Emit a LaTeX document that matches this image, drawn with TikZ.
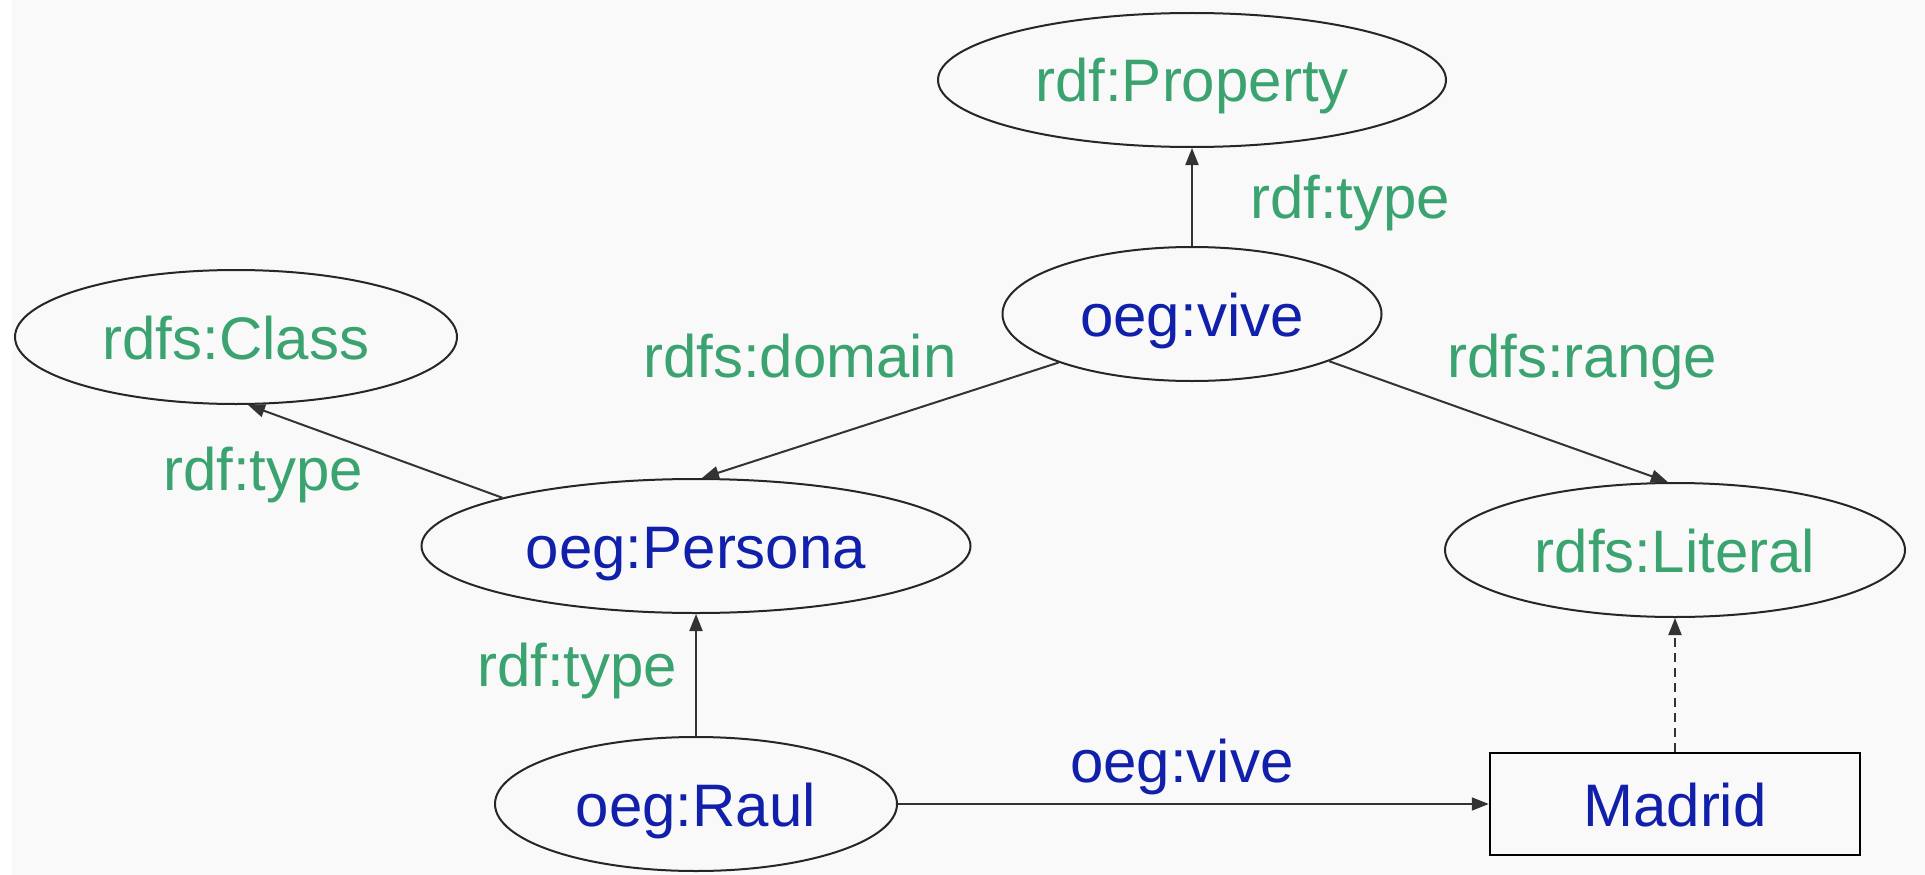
\documentclass[tikz,border=0pt]{standalone}
\usepackage{fontspec}
\setmainfont{Liberation Sans}
\usetikzlibrary{shapes.geometric,arrows.meta}
\definecolor{lblgreen}{RGB}{58,163,112}
\definecolor{nodeblue}{RGB}{16,32,170}
\definecolor{bgcol}{RGB}{249,249,249}
\begin{document}
\begin{tikzpicture}[x=1pt,y=-1pt,
  every node/.style={font=\fontsize{60}{72}\selectfont},
  res/.style={ellipse, draw=black!85, line width=2pt, inner sep=0pt,
    minimum height=134pt, text height=44pt, text depth=0pt},
  lit/.style={rectangle, draw=black, line width=2.5pt, inner sep=0pt,
    minimum width=370pt, minimum height=102pt, text height=44pt, text depth=0pt},
  lbl/.style={anchor=base west, inner sep=0pt, text=lblgreen},
  conn/.style={-{Triangle[length=17pt,width=13pt]}, line width=2pt, draw=black!80},
]
\useasboundingbox (0,0) rectangle (1925,875);
\fill[bgcol] (0,0) rectangle (1925,875);
\fill[white] (0,0) rectangle (12,875);

% nodes
\node[res, minimum width=508pt, text=lblgreen] (prop) at (1192,80) {rdf:Property};
\node[res, minimum width=379pt, text=nodeblue] (vive) at (1192,314) {oeg:vive};
\node[res, minimum width=442pt, text=lblgreen] (class) at (236,337) {rdfs:Class};
\node[res, minimum width=549pt, text=nodeblue] (persona) at (696,546) {oeg:Persona};
\node[res, minimum width=460pt, text=lblgreen] (literal) at (1675,550) {rdfs:Literal};
\node[res, minimum width=402pt, text=nodeblue] (raul) at (696,804) {oeg:Raul};
\node[lit, text=nodeblue] (madrid) at (1675,804) {Madrid};

% connectors
\draw[conn] (vive.north) -- (prop.south);
\draw[conn] (vive.-160.4) -- (persona.85);
\draw[conn] (vive.-19.6) -- (literal.96.8);
\draw[conn] (persona.166.2) -- (class.-80.4);
\draw[conn] (raul.north) -- (persona.south);
\draw[conn] (raul.east) -- (madrid.west);
\draw[conn, dash pattern=on 9pt off 6pt] (madrid.north) -- (literal.south);

% labels
\node[lbl] (l1) at (1250,218) {rdf:type};
\node[lbl] (l2) at (643,377) {rdfs:domain};
\node[lbl] (l3) at (1447,377) {rdfs:range};
\node[lbl] (l4) at (163,490) {rdf:type};
\node[lbl] (l5) at (477,686) {rdf:type};
\node[lbl, text=nodeblue] (l6) at (1070,782) {oeg:vive};
\end{tikzpicture}
\end{document}
